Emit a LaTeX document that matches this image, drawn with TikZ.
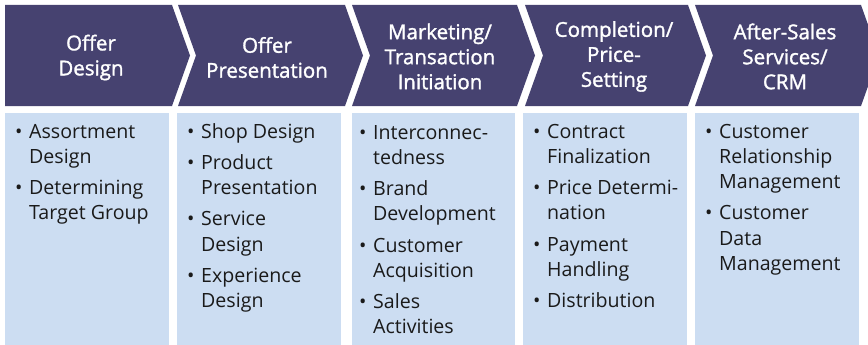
\documentclass[tikz,border=0pt]{standalone}
\usepackage{fontspec}
\setmainfont{Open Sans}
\newfontfamily\hdfont[FakeBold=1.5]{Open Sans}
\definecolor{chev}{RGB}{70,66,112}
\definecolor{boxbg}{RGB}{204,221,242}
\definecolor{txt}{RGB}{26,26,26}
\newcommand{\bul}{\makebox[14pt][l]{•}}
\tikzset{
  chevron/.style={fill=chev, draw=none},
  listbox/.style={fill=boxbg, draw=none},
  headtext/.style={text=white, align=center, inner sep=0pt, font=\hdfont\fontsize{20.5}{25}\selectfont},
  listtext/.style={text=txt, anchor=north west, inner sep=0pt, font=\fontsize{19.6}{25.2}\selectfont}
}
\begin{document}
\begin{tikzpicture}[x=1pt,y=-1pt]
\useasboundingbox (0,0) rectangle (868,345);
\clip (0,0) rectangle (868,345);
% chevrons
\fill[chevron] (5,5) -- (172,5) -- (190,55.5) -- (172,106) -- (5,106) -- cycle;
\fill[chevron] (178,5) -- (345,5) -- (363,55.5) -- (345,106) -- (178,106) -- (196,55.5) -- cycle;
\fill[chevron] (352,5) -- (517,5) -- (535,55.5) -- (517,106) -- (352,106) -- (370,55.5) -- cycle;
\fill[chevron] (525,5) -- (688,5) -- (706,55.5) -- (688,106) -- (525,106) -- (543,55.5) -- cycle;
\fill[chevron] (695,5) -- (861,5) -- (879,55.5) -- (861,106) -- (695,106) -- (713,55.5) -- cycle;
% header texts
\node[headtext] (h1) at (91,57.5) {Offer\\Design};
\node[headtext] (h2) at (267,57.5) {Offer\\Presentation};
\node[headtext] (h3) at (440,56.5) {Marketing/\\Transaction\\Initiation};
\node[headtext] (h4) at (614,56.5) {Completion/\\Price-\\Setting};
\node[headtext] (h5) at (785,56.5) {After-Sales\\Services/\\CRM};
% boxes
\fill[listbox] (5,113) rectangle (169,345);
\fill[listbox] (177,113) rectangle (341,345);
\fill[listbox] (352,113) rectangle (515,345);
\fill[listbox] (523,113) rectangle (687,345);
\fill[listbox] (695,113) rectangle (859,345);
% lists
\node[listtext] (l1) at (15,120.5) {\begin{tabular}{@{}l@{}l@{}}
\bul&Assortment\\ &Design\\[6pt]
\bul&Determining\\ &Target Group
\end{tabular}};
\node[listtext] (l2) at (187,120.5) {\begin{tabular}{@{}l@{}l@{}}
\bul&Shop Design\\[6pt]
\bul&Product\\ &Presentation\\[6pt]
\bul&Service\\ &Design\\[6pt]
\bul&Experience\\ &Design
\end{tabular}};
\node[listtext] (l3) at (359,121.5) {\begin{tabular}{@{}l@{}l@{}}
\bul&Interconnec-\\ &tedness\\[6pt]
\bul&Brand\\ &Development\\[6pt]
\bul&Customer\\ &Acquisition\\[6pt]
\bul&Sales\\ &Activities
\end{tabular}};
\node[listtext] (l4) at (533,120.5) {\begin{tabular}{@{}l@{}l@{}}
\bul&Contract\\ &Finalization\\[6pt]
\bul&Price Determi-\\ &nation\\[6pt]
\bul&Payment\\ &Handling\\[6pt]
\bul&Distribution
\end{tabular}};
\node[listtext] (l5) at (705,120.5) {\begin{tabular}{@{}l@{}l@{}}
\bul&Customer\\ &Relationship\\ &Management\\[6pt]
\bul&Customer\\ &Data\\ &Management
\end{tabular}};
\end{tikzpicture}
\end{document}
